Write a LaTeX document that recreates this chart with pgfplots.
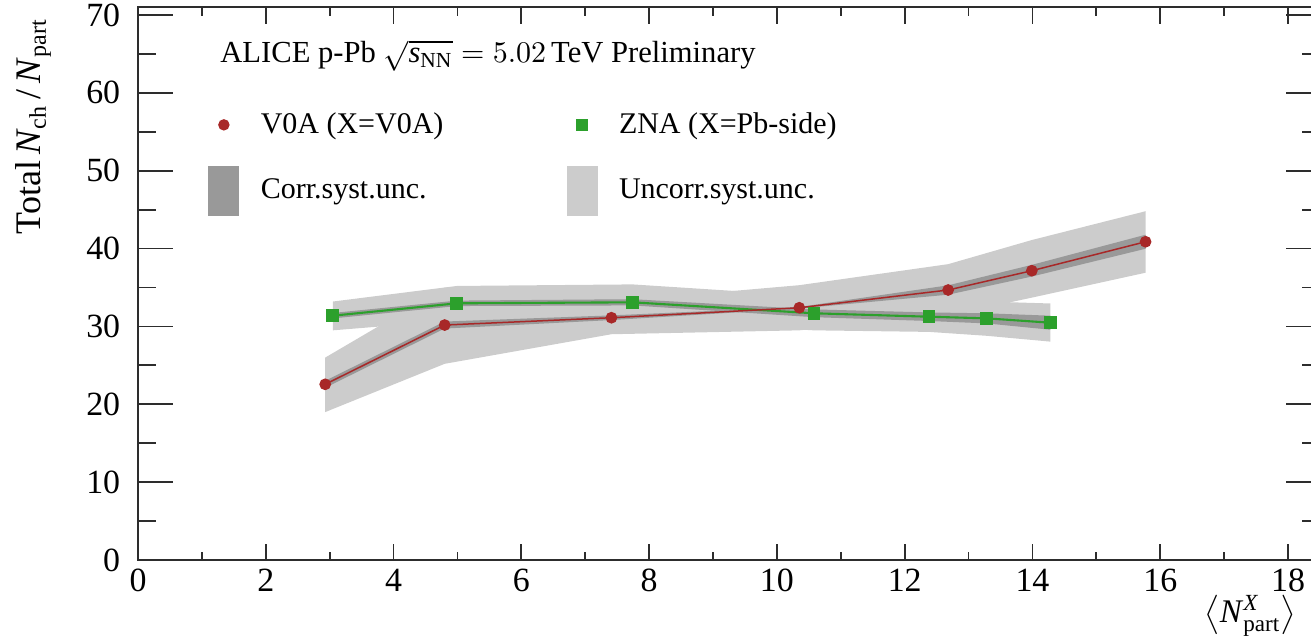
\documentclass[border=0pt]{standalone}
\usepackage{fontspec}
\setmainfont{Liberation Serif}
\usepackage{amsmath}
\usepackage{pgfplots}
\pgfplotsset{compat=1.18}
\definecolor{uncorr}{RGB}{204,204,204}
\definecolor{corr}{RGB}{153,153,153}
\definecolor{vred}{RGB}{168,40,40}
\definecolor{zgreen}{RGB}{44,160,44}
\definecolor{axgray}{RGB}{45,45,45}
\begin{document}
\begin{tikzpicture}
\begin{axis}[
  scale only axis, width=394pt, height=184.27pt,
  xmin=0, xmax=18.5, ymin=0, ymax=71,
  xtick={0,2,...,18}, minor xtick={1,3,...,17},
  ytick={0,10,...,70}, minor ytick={5,15,...,65},
  tick align=inside,
  axis line style={axgray, line width=0.6pt},
  tick style={axgray, line width=0.6pt},
  xtick style={/pgfplots/major tick length=5.5pt,/pgfplots/minor tick length=2.8pt},
  ytick style={/pgfplots/major tick length=11.5pt,/pgfplots/minor tick length=6pt},
  /pgf/number format/assume math mode=true,
  ticklabel style={font=\fontsize{11.3}{13}\selectfont},
  yticklabel style={xshift=-2.4pt},
  xticklabel style={yshift=0.5pt},
  xlabel={$\big\langle \text{\textit{N}}^{\text{\textit{X}}}_{\text{part}}\big\rangle$},
  xlabel style={at={(rel axis cs:0.9805,0)}, anchor=south east, yshift=-25.5pt, inner sep=0pt, font=\fontsize{11}{13}\selectfont},
  legend columns=2,
  legend cell align=left,
  legend style={at={(axis cs:1.10,59.06)}, anchor=north west, draw=none, fill=none,
    inner sep=0pt, outer sep=0pt, row sep=5.6pt, column sep=0pt,
    nodes={inner sep=4pt, font=\fontsize{10}{12}\selectfont},
    /tikz/every even column/.append style={column sep=37pt}},
]
\addlegendimage{legend image code/.code={\path[draw=none,fill=none] (0pt,-8pt) rectangle (13.3pt,8pt);
  \draw[vred, only marks, mark=*, mark size=1.7pt] plot coordinates {(5pt,0pt)};}}
\addlegendentry{V0A (X=V0A)}
\addlegendimage{legend image code/.code={\path[draw=none,fill=none] (0pt,-8pt) rectangle (13.3pt,8pt);
  \draw[zgreen, only marks, mark=square*, mark size=1.8pt] plot coordinates {(5pt,0pt)};}}
\addlegendentry{ZNA (X=Pb-side)}
\addlegendimage{legend image code/.code={\path[draw=none,fill=none] (0pt,-8pt) rectangle (13.3pt,8pt);
  \fill[corr] (0pt,-8pt) rectangle (10pt,8pt);}}
\addlegendentry{Corr.syst.unc.}
\addlegendimage{legend image code/.code={\path[draw=none,fill=none] (0pt,-8pt) rectangle (13.3pt,8pt);
  \fill[uncorr] (0pt,-8pt) rectangle (10pt,8pt);}}
\addlegendentry{Uncorr.syst.unc.}

% uncorrelated systematics (V0A)
\addplot[fill=uncorr, draw=none, forget plot] coordinates {
 (2.93,26.0) (4.80,35.0) (7.41,33.2) (10.35,35.3) (12.68,38.0) (13.99,41.1) (15.77,44.8)
 (15.77,36.9) (13.99,33.7) (12.68,31.4) (10.35,29.5) (7.41,29.0) (4.80,25.2) (2.93,19.0)};
% uncorrelated systematics (ZNA)
\addplot[fill=uncorr, draw=none, forget plot] coordinates {
 (3.05,33.2) (4.99,35.2) (7.74,35.4) (10.58,33.9) (12.38,33.4) (13.28,33.2) (14.28,32.95)
 (14.28,28.05) (13.28,28.8) (12.38,29.3) (10.58,29.5) (7.74,30.8) (4.99,30.8) (3.05,29.5)};
% correlated systematics (V0A)
\addplot[fill=corr, draw=none, forget plot] coordinates {
 (2.93,23.02) (4.80,30.63) (7.41,31.42) (10.35,32.5) (12.68,35.28) (13.99,37.91) (15.77,41.78)
 (15.77,39.98) (13.99,36.41) (12.68,34.08) (10.35,32.3) (7.41,30.82) (4.80,29.73) (2.93,22.12)};
% correlated systematics (ZNA)
\addplot[fill=corr, draw=none, forget plot] coordinates {
 (3.05,31.73) (4.99,33.32) (7.74,33.5) (10.58,32.19) (12.38,31.8) (13.28,31.69) (14.28,31.38)
 (14.28,29.58) (13.28,30.39) (12.38,30.7) (10.58,31.19) (7.74,32.7) (4.99,32.62) (3.05,31.03)};
% ZNA
\addplot[zgreen, line width=0.7pt, mark=square*, mark size=1.8pt, forget plot] coordinates {
 (3.05,31.38) (4.99,32.97) (7.74,33.10) (10.58,31.69) (12.38,31.25) (13.28,31.04) (14.28,30.48)};
% V0A
\addplot[vred, line width=0.5pt, mark=*, mark size=1.7pt, forget plot] coordinates {
 (2.93,22.57) (4.80,30.18) (7.41,31.12) (10.35,32.40) (12.68,34.68) (13.99,37.16) (15.77,40.88)};

\node[anchor=west, inner sep=0pt, font=\fontsize{10.2}{12}\selectfont] at (axis cs:1.28,64.75)
  {ALICE p-Pb $\sqrt{\text{\textit{s}}_{\text{NN}}} = 5.02\,$TeV Preliminary};
\end{axis}
\node[rotate=90, anchor=north east, inner sep=0pt, font=\fontsize{12}{14}\selectfont]
  at ([xshift=-41pt,yshift=-3.6pt]current axis.north west)
  {Total\,\textit{N}\textsubscript{ch}\,/\,\textit{N}\textsubscript{part}};
\pgfresetboundingbox
\path ([shift={(-46pt,-25.67pt)}]current axis.south west) rectangle ++(437pt,212.34pt);
\end{tikzpicture}
\end{document}
